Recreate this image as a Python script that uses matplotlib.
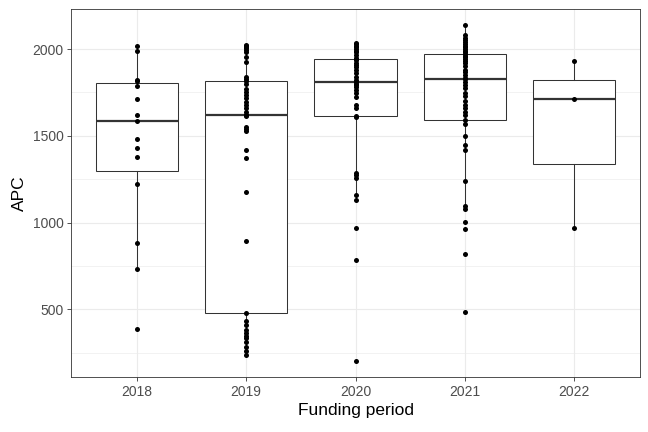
import numpy as np
import matplotlib.pyplot as plt
from matplotlib.ticker import MultipleLocator

plt.rcParams['font.family'] = ['Liberation Sans', 'DejaVu Sans']

periods = ['2018', '2019', '2020', '2021', '2022']

apc_2018 = [389, 731, 883, 1221, 1376, 1431, 1481, 1587, 1620, 1710,
            1787, 1816, 1822, 1990, 2019]
apc_2019 = [240, 260, 285, 310, 333, 350, 365, 381, 410, 433, 478,
            894, 1175, 1372, 1418, 1530, 1540, 1550, 1615, 1618, 1622,
            1640, 1660, 1675, 1695, 1715, 1735, 1755, 1770, 1800, 1818,
            1830, 1840, 1925, 1955, 1985, 1995, 2005, 2015, 2020, 2025]
apc_2020 = [203, 785, 969, 1130, 1159, 1257, 1272, 1286, 1608, 1614,
            1660, 1680, 1724, 1745, 1765, 1780, 1790, 1800, 1808,
            1820, 1840, 1860, 1880, 1895, 1910, 1920, 1935, 1941,
            1950, 1965, 1980, 1990, 2000, 2010, 2020, 2028, 2035]
apc_2021 = [485, 819, 963, 1005, 1078, 1096, 1240, 1418, 1447, 1501, 1568,
            1589, 1620, 1640, 1660, 1680, 1700, 1729, 1747, 1775, 1790, 1810,
            1827, 1835, 1850, 1865, 1881, 1900, 1919, 1930, 1945, 1955, 1962,
            1969, 1980, 1990, 2000, 2010, 2020, 2030, 2040, 2050, 2063, 2080,
            2140]
apc_2022 = [969, 1712, 1930]

data = [apc_2018, apc_2019, apc_2020, apc_2021, apc_2022]

fig = plt.figure(figsize=(6.48, 4.32), dpi=100)
ax = fig.add_axes([0.1096, 0.1273, 0.8781, 0.8517])

edge = '#333333'
pos = np.arange(1, len(periods) + 1)

ax.boxplot(data, positions=pos, widths=0.75, patch_artist=True,
           showfliers=False, showcaps=False, zorder=2,
           boxprops=dict(facecolor='white', edgecolor=edge, linewidth=0.75),
           whiskerprops=dict(color=edge, linewidth=0.75),
           medianprops=dict(color=edge, linewidth=1.6))

for i, vals in enumerate(data):
    ax.scatter(np.full(len(vals), pos[i]), vals, s=13, color='black',
               linewidths=0, zorder=3)

ax.set_xlim(0.4, 5.6)
ax.set_ylim(111, 2230)
ax.set_xticks(pos)
ax.set_xticklabels(periods)
ax.yaxis.set_major_locator(MultipleLocator(500))
ax.yaxis.set_minor_locator(MultipleLocator(250))

ax.grid(True, which='major', color='#EBEBEB', linewidth=0.8, zorder=0)
ax.grid(True, which='minor', axis='y', color='#EBEBEB', linewidth=0.45, zorder=0)
ax.set_axisbelow(True)

for s in ax.spines.values():
    s.set_color(edge)
    s.set_linewidth(0.6)

ax.tick_params(which='major', length=3, width=0.6, color=edge,
               labelsize=10, labelcolor='#4D4D4D', pad=2.5)
ax.tick_params(which='minor', length=0)

ax.set_xlabel('Funding period', fontsize=12.5, labelpad=3)
ax.set_ylabel('APC', fontsize=12.5, labelpad=4)

fig.savefig('out.png', dpi=100)
